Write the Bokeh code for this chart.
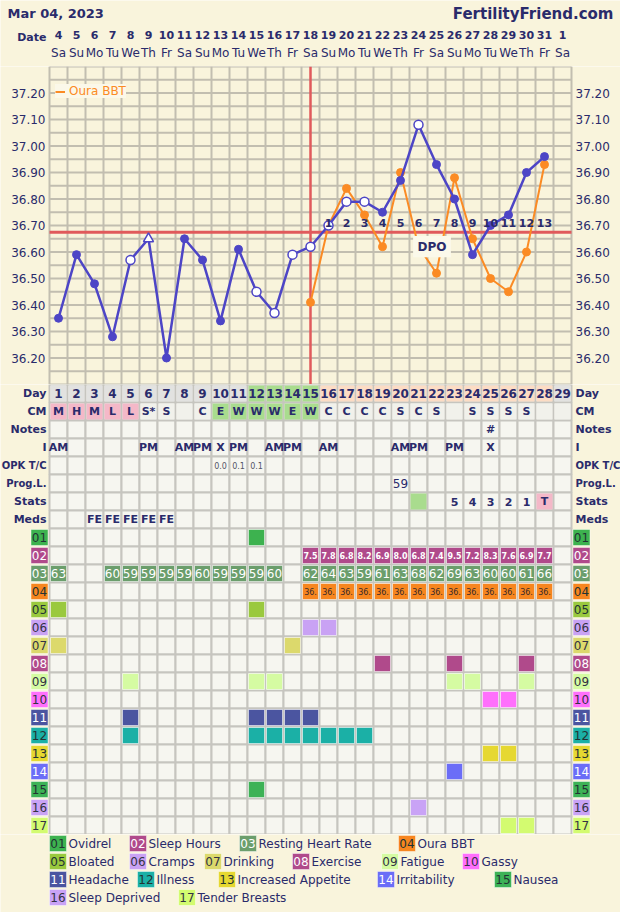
from bokeh.plotting import figure
from bokeh.layouts import column
from bokeh.models import Range1d
from bokeh.core.properties import value
from bokeh.embed import file_html
from bokeh.resources import INLINE

# ---------------- data ----------------
TITLE = "Mar 04, 2023"
SITE = "FertilityFriend.com"

cycle_days = list(range(1, 30))
dates = [4, 5, 6, 7, 8, 9, 10, 11, 12, 13, 14, 15, 16, 17, 18, 19, 20, 21, 22, 23, 24, 25, 26, 27, 28, 29, 30, 31, 1]
weekdays = ["Sa", "Su", "Mo", "Tu", "We", "Th", "Fr"] * 4 + ["Sa"]

temp_ticks = [36.20, 36.30, 36.40, 36.50, 36.60, 36.70, 36.80, 36.90, 37.00, 37.10, 37.20]
temp_min, temp_max = 36.10, 37.30

bbt_days = list(range(1, 29))
bbt_temps = [36.35, 36.59, 36.48, 36.28, 36.57, 36.65, 36.20, 36.65, 36.57, 36.34, 36.61, 36.45, 36.37, 36.59,
             36.62, 36.70, 36.79, 36.79, 36.75, 36.87, 37.08, 36.93, 36.80, 36.59, 36.70, 36.74, 36.90, 36.96]
bbt_kind = ["f", "f", "f", "f", "o", "t", "f", "f", "f", "f", "f", "o", "o", "o",
            "o", "o", "o", "o", "f", "f", "o", "f", "f", "f", "f", "f", "f", "f"]

oura_days = list(range(15, 29))
oura_temps = [36.41, 36.70, 36.84, 36.74, 36.62, 36.90, 36.62, 36.52, 36.88, 36.65, 36.50, 36.45, 36.60, 36.93]

coverline = 36.675
ovulation_day = 15
dpo_days = list(range(16, 29))
dpo_labels = [str(i) for i in range(1, 14)]

phase = ["pre"] * 11 + ["fertile"] * 4 + ["luteal"] * 13 + ["next"]
cm_values = ["M", "H", "M", "L", "L", "S*", "S", "", "C", "E", "W", "W", "W", "E", "W",
             "C", "C", "C", "C", "S", "C", "S", "", "S", "S", "S", "S", "", ""]
notes_days = [25]
notes_vals = ["#"]
i_days = [1, 6, 8, 9, 10, 11, 13, 14, 16, 20, 21, 23, 25]
i_vals = ["AM", "PM", "AM", "PM", "X", "PM", "AM", "PM", "AM", "AM", "PM", "PM", "X"]
opk_days = [10, 11, 12]
opk_vals = ["0.0", "0.1", "0.1"]
prog_days = [20]
prog_vals = ["59"]
stat_days = [23, 24, 25, 26, 27]
stat_vals = ["5", "4", "3", "2", "1"]
stat_flag_day = [21]
test_day = [28]
test_vals = ["T"]
meds_days = [3, 4, 5, 6, 7]
meds_vals = ["FE", "FE", "FE", "FE", "FE"]

table_labels = ["Day", "CM", "Notes", "I", "OPK T/C", "Prog.L.", "Stats", "Meds"]

symptom_codes = ["01", "02", "03", "04", "05", "06", "07", "08", "09", "10", "11", "12", "13", "14", "15", "16", "17"]
symptom_names = ["Ovidrel", "Sleep Hours", "Resting Heart Rate", "Oura BBT", "Bloated", "Cramps", "Drinking",
                 "Exercise", "Fatigue", "Gassy", "Headache", "Illness", "Increased Appetite", "Irritability",
                 "Nausea", "Sleep Deprived", "Tender Breasts"]
symptom_colors = ["#3db24f", "#b04a8b", "#6b9e6c", "#f7861f", "#9ac93e", "#c9a2f4", "#dcd96c", "#b04a8b",
                  "#d5fba2", "#ff6ffc", "#4b55a0", "#1bb0a6", "#e6d831", "#6b6df7", "#3db256", "#c9a3f6", "#d3fb70"]
symptom_text = ["#233", "white", "white", "#233", "#233", "#334", "#334", "white", "#334", "#334",
                "white", "#233", "#233", "white", "#233", "#334", "#334"]

sleep_days = list(range(15, 29))
sleep_hours = [7.5, 7.8, 6.8, 8.2, 6.9, 8.0, 6.8, 7.4, 9.5, 7.2, 8.3, 7.6, 6.9, 7.7]
rhr_days = [1, 4, 5, 6, 7, 8, 9, 10, 11, 12, 13] + list(range(15, 29))
rhr_vals = [63, 60, 59, 59, 59, 59, 60, 59, 59, 59, 60, 62, 64, 63, 59, 61, 63, 68, 62, 69, 63, 60, 60, 61, 66]
ovidrel_days = [12]
bloated_days = [1, 12]
cramps_days = [15, 16]
drinking_days = [1, 14]
exercise_days = [19, 23, 27]
fatigue_days = [5, 12, 13, 23, 24, 27]
gassy_days = [25, 26]
headache_days = [5, 12, 13, 14, 15]
illness_days = [5, 12, 13, 14, 15, 16, 17, 18]
appetite_days = [25, 26]
irritability_days = [23]
nausea_days = [12]
sleepdep_days = [21]
tender_days = [26, 27]

# legend layout (pixel positions of the wrapped legend)
legend_x = [49, 129, 239, 398, 49, 129, 204, 292, 381, 462, 49, 137, 218, 377, 494, 49, 178]
legend_row = [0, 0, 0, 0, 1, 1, 1, 1, 1, 1, 2, 2, 2, 2, 2, 3, 3]

# ---------------- style ----------------
FONT = "DejaVu Sans"
NAVY = "#2a2b6b"
CREAM = "#f9f4dc"
CELL = "#f6f6f0"
GRID_T = "#c6c5bf"
GRID_C = "#c2beb0"
BLUE = "#4d45c6"
ORANGE = "#fb8b24"
RED = "#e05a5c"
PX = 18.0                      # pixels per day column
XL = 0.5 - 49 / PX             # full-width figure range in day units
XR = XL + 620 / PX
D0, D1 = 0.5, 29.5             # grid extent in day units


def base_fig(h, xr, yr):
    f = figure(width=620, height=h, x_range=xr, y_range=yr, toolbar_location=None, output_backend="svg",
               x_axis_location=None, y_axis_location=None, min_border=0,
               background_fill_color=CREAM, border_fill_color=CREAM, outline_line_color=None)
    for g in f.grid:
        g.visible = False
    return f


def put(f, xs, ys, texts, size="11px", bold=True, color=NAVY, align="center"):
    f.text(x=xs, y=ys, text=texts, text_align=align, text_baseline="middle",
           text_font=value(FONT), text_font_size=size,
           text_font_style="bold" if bold else "normal", text_color=color)


# ---------------- header ----------------
H = base_fig(66, Range1d(XL, XR), Range1d(66, 0))
put(H, [XL + 7 / PX], [13], [TITLE], size="13px", align="left")
put(H, [XL + 613 / PX], [13], [SITE], size="15px", align="right")
put(H, [XL + 46 / PX], [37], ["Date"], size="11px", align="right")
put(H, cycle_days, [34] * 29, [str(d) for d in dates], size="11px")
put(H, cycle_days, [52] * 29, weekdays, size="12px", bold=False)

# ---------------- temperature chart ----------------
P = base_fig(318, Range1d(XL, XR), Range1d(temp_min, temp_max))
vx = [d + 0.5 for d in range(0, 30)]
P.segment(x0=vx, y0=[temp_min] * len(vx), x1=vx, y1=[temp_max] * len(vx), line_color=GRID_C, line_width=2)
hy = [round(temp_min + 0.05 * i, 2) for i in range(25)]
P.segment(x0=[D0] * len(hy), y0=hy, x1=[D1] * len(hy), y1=hy, line_color=GRID_C, line_width=2)

put(P, [XL + 45 / PX] * len(temp_ticks), temp_ticks, [f"{t:.2f}" for t in temp_ticks], size="12px", bold=False,
    align="right")
put(P, [XL + 575 / PX] * len(temp_ticks), temp_ticks, [f"{t:.2f}" for t in temp_ticks], size="12px", bold=False,
    align="left")

P.segment(x0=[D0], y0=[coverline], x1=[D1], y1=[coverline], line_color=RED, line_width=3)
P.segment(x0=[ovulation_day], y0=[temp_min], x1=[ovulation_day], y1=[temp_max], line_color=RED, line_width=2.5)

P.line(oura_days, oura_temps, color=ORANGE, line_width=2, legend_label="Oura BBT")
P.scatter(oura_days, oura_temps, size=8, color=ORANGE)

P.line(bbt_days, bbt_temps, color=BLUE, line_width=2.5)
fx = [d for d, k in zip(bbt_days, bbt_kind) if k == "f"]
fy = [t for t, k in zip(bbt_temps, bbt_kind) if k == "f"]
ox = [d for d, k in zip(bbt_days, bbt_kind) if k == "o"]
oy = [t for t, k in zip(bbt_temps, bbt_kind) if k == "o"]
tx = [d for d, k in zip(bbt_days, bbt_kind) if k == "t"]
ty = [t for t, k in zip(bbt_temps, bbt_kind) if k == "t"]
P.scatter(fx, fy, size=8, fill_color=BLUE, line_color=BLUE)
P.scatter(ox, oy, size=9, fill_color="white", line_color=BLUE, line_width=1.5)
P.scatter(tx, ty, marker="triangle", size=10, fill_color="white", line_color=BLUE, line_width=1.5)

put(P, dpo_days, [36.711] * len(dpo_days), dpo_labels, size="11px")
P.rect(x=[21.75], y=[36.62], width=2.1, height=0.08, fill_color="#fbf9ea", line_color=None)
put(P, [21.75], [36.62], ["DPO"], size="12px")

lg = P.legend[0]
lg.location = (55, 286)
lg.background_fill_color = "#fbf8e9"
lg.background_fill_alpha = 1
lg.border_line_color = None
lg.padding = 3
lg.margin = 0
lg.spacing = 0
lg.glyph_width = 10
lg.glyph_height = 13
lg.label_height = 13
lg.label_standoff = 4
lg.label_text_font = FONT
lg.label_text_font_size = "12px"
lg.label_text_color = ORANGE

# ---------------- table ----------------
NROWS = 8 + len(symptom_codes)
T = base_fig(NROWS * 18, Range1d(XL, XR), Range1d(NROWS, 0))
cx = [d for r in range(NROWS) for d in cycle_days]
cy = [r + 0.5 for r in range(NROWS) for d in cycle_days]
T.rect(x=cx, y=cy, width=1, height=1, fill_color=CELL, line_color=GRID_T, line_width=2)

IN = 16 / 18.0


def fill(row, days, color, line=None):
    T.rect(x=days, y=[row + 0.5] * len(days), width=IN, height=IN, fill_color=color,
           line_color=line if line else None, line_alpha=0.5, line_width=1)


phase_color = {"pre": "#e2e2e0", "fertile": "#a9dc8e", "luteal": "#fcdcc4", "next": "#e2e2e0"}
T.rect(x=cycle_days, y=[0.5] * 29, width=IN, height=IN, fill_color=[phase_color[p] for p in phase], line_color=None)
put(T, cycle_days, [0.5] * 29, [str(d) for d in cycle_days], size="12px")


def cm_color(c):
    if c in ("M", "H", "L"):
        return "#f4b8c8"
    if c in ("E", "W"):
        return "#a9dc8e"
    return "#f1f1eb"


T.rect(x=cycle_days, y=[1.5] * 29, width=IN, height=IN, fill_color=[cm_color(c) for c in cm_values], line_color=None)
put(T, cycle_days, [1.5] * 29, cm_values, size="11px")
put(T, notes_days, [2.5] * len(notes_days), notes_vals, size="11px")
put(T, i_days, [3.5] * len(i_days), i_vals, size="11px")
put(T, opk_days, [4.5] * len(opk_days), opk_vals, size="8px", bold=False, color="#555566")
put(T, prog_days, [5.5] * len(prog_days), prog_vals, size="12px", bold=False)
fill(6, stat_flag_day, "#a9dc8e")
fill(6, test_day, "#f4b8c8")
put(T, stat_days, [6.5] * len(stat_days), stat_vals, size="11px")
put(T, test_day, [6.5], test_vals, size="11px")
put(T, meds_days, [7.5] * len(meds_days), meds_vals, size="11px")

label_sizes = ["10px" if len(s) > 6 else "11px" for s in table_labels]
T.text(x=[XL + 46 / PX] * 8, y=[r + 0.5 for r in range(8)], text=table_labels, text_align="right",
       text_baseline="middle", text_font=value(FONT), text_font_size=label_sizes, text_font_style="bold",
       text_color=NAVY)
T.text(x=[XL + 575 / PX] * 8, y=[r + 0.5 for r in range(8)], text=table_labels, text_align="left",
       text_baseline="middle", text_font=value(FONT), text_font_size=label_sizes, text_font_style="bold",
       text_color=NAVY)

# symptom code boxes on both sides
sy = [8 + i + 0.5 for i in range(len(symptom_codes))]
for bx in (XL + 39 / PX, XL + 581 / PX):
    T.rect(x=[bx] * len(sy), y=sy, width=17 / PX, height=IN, fill_color=symptom_colors,
           line_color="white", line_alpha=0.45, line_width=1)
    T.text(x=[bx] * len(sy), y=sy, text=symptom_codes, text_align="center", text_baseline="middle",
           text_font=value(FONT), text_font_size="12px", text_color=symptom_text)

# data rows
fill(8, ovidrel_days, symptom_colors[0], "white")
fill(9, sleep_days, symptom_colors[1], "white")
put(T, sleep_days, [9.5] * len(sleep_days), [f"{h:.1f}" for h in sleep_hours], size="8px", color="white")
fill(10, rhr_days, symptom_colors[2], "white")
put(T, rhr_days, [10.5] * len(rhr_days), [str(v) for v in rhr_vals], size="12px", bold=False, color="white")
fill(11, oura_days, symptom_colors[3], "white")
put(T, oura_days, [11.5] * len(oura_days), [f"{t:.2f}"[:3] for t in oura_temps], size="8px", bold=False,
    color="#3a2a2a")
for row, days in [(12, bloated_days), (13, cramps_days), (14, drinking_days), (15, exercise_days),
                  (16, fatigue_days), (17, gassy_days), (18, headache_days), (19, illness_days),
                  (20, appetite_days), (21, irritability_days), (22, nausea_days), (23, sleepdep_days),
                  (24, tender_days)]:
    fill(row, days, symptom_colors[row - 8], "white")

# ---------------- legend ----------------
L = base_fig(78, Range1d(0, 620), Range1d(78, 0))
ly = [9 + 18 * r for r in legend_row]
L.rect(x=[x + 8.5 for x in legend_x], y=ly, width=17, height=16, fill_color=symptom_colors,
       line_color="white", line_alpha=0.45, line_width=1)
L.text(x=[x + 8.5 for x in legend_x], y=ly, text=symptom_codes, text_align="center", text_baseline="middle",
       text_font=value(FONT), text_font_size="12px", text_color=symptom_text)
put(L, [x + 19 for x in legend_x], ly, symptom_names, size="12px", bold=False, align="left")

layout = column(H, P, T, L, spacing=0)
open("out.html", "w").write(file_html(layout, INLINE))
